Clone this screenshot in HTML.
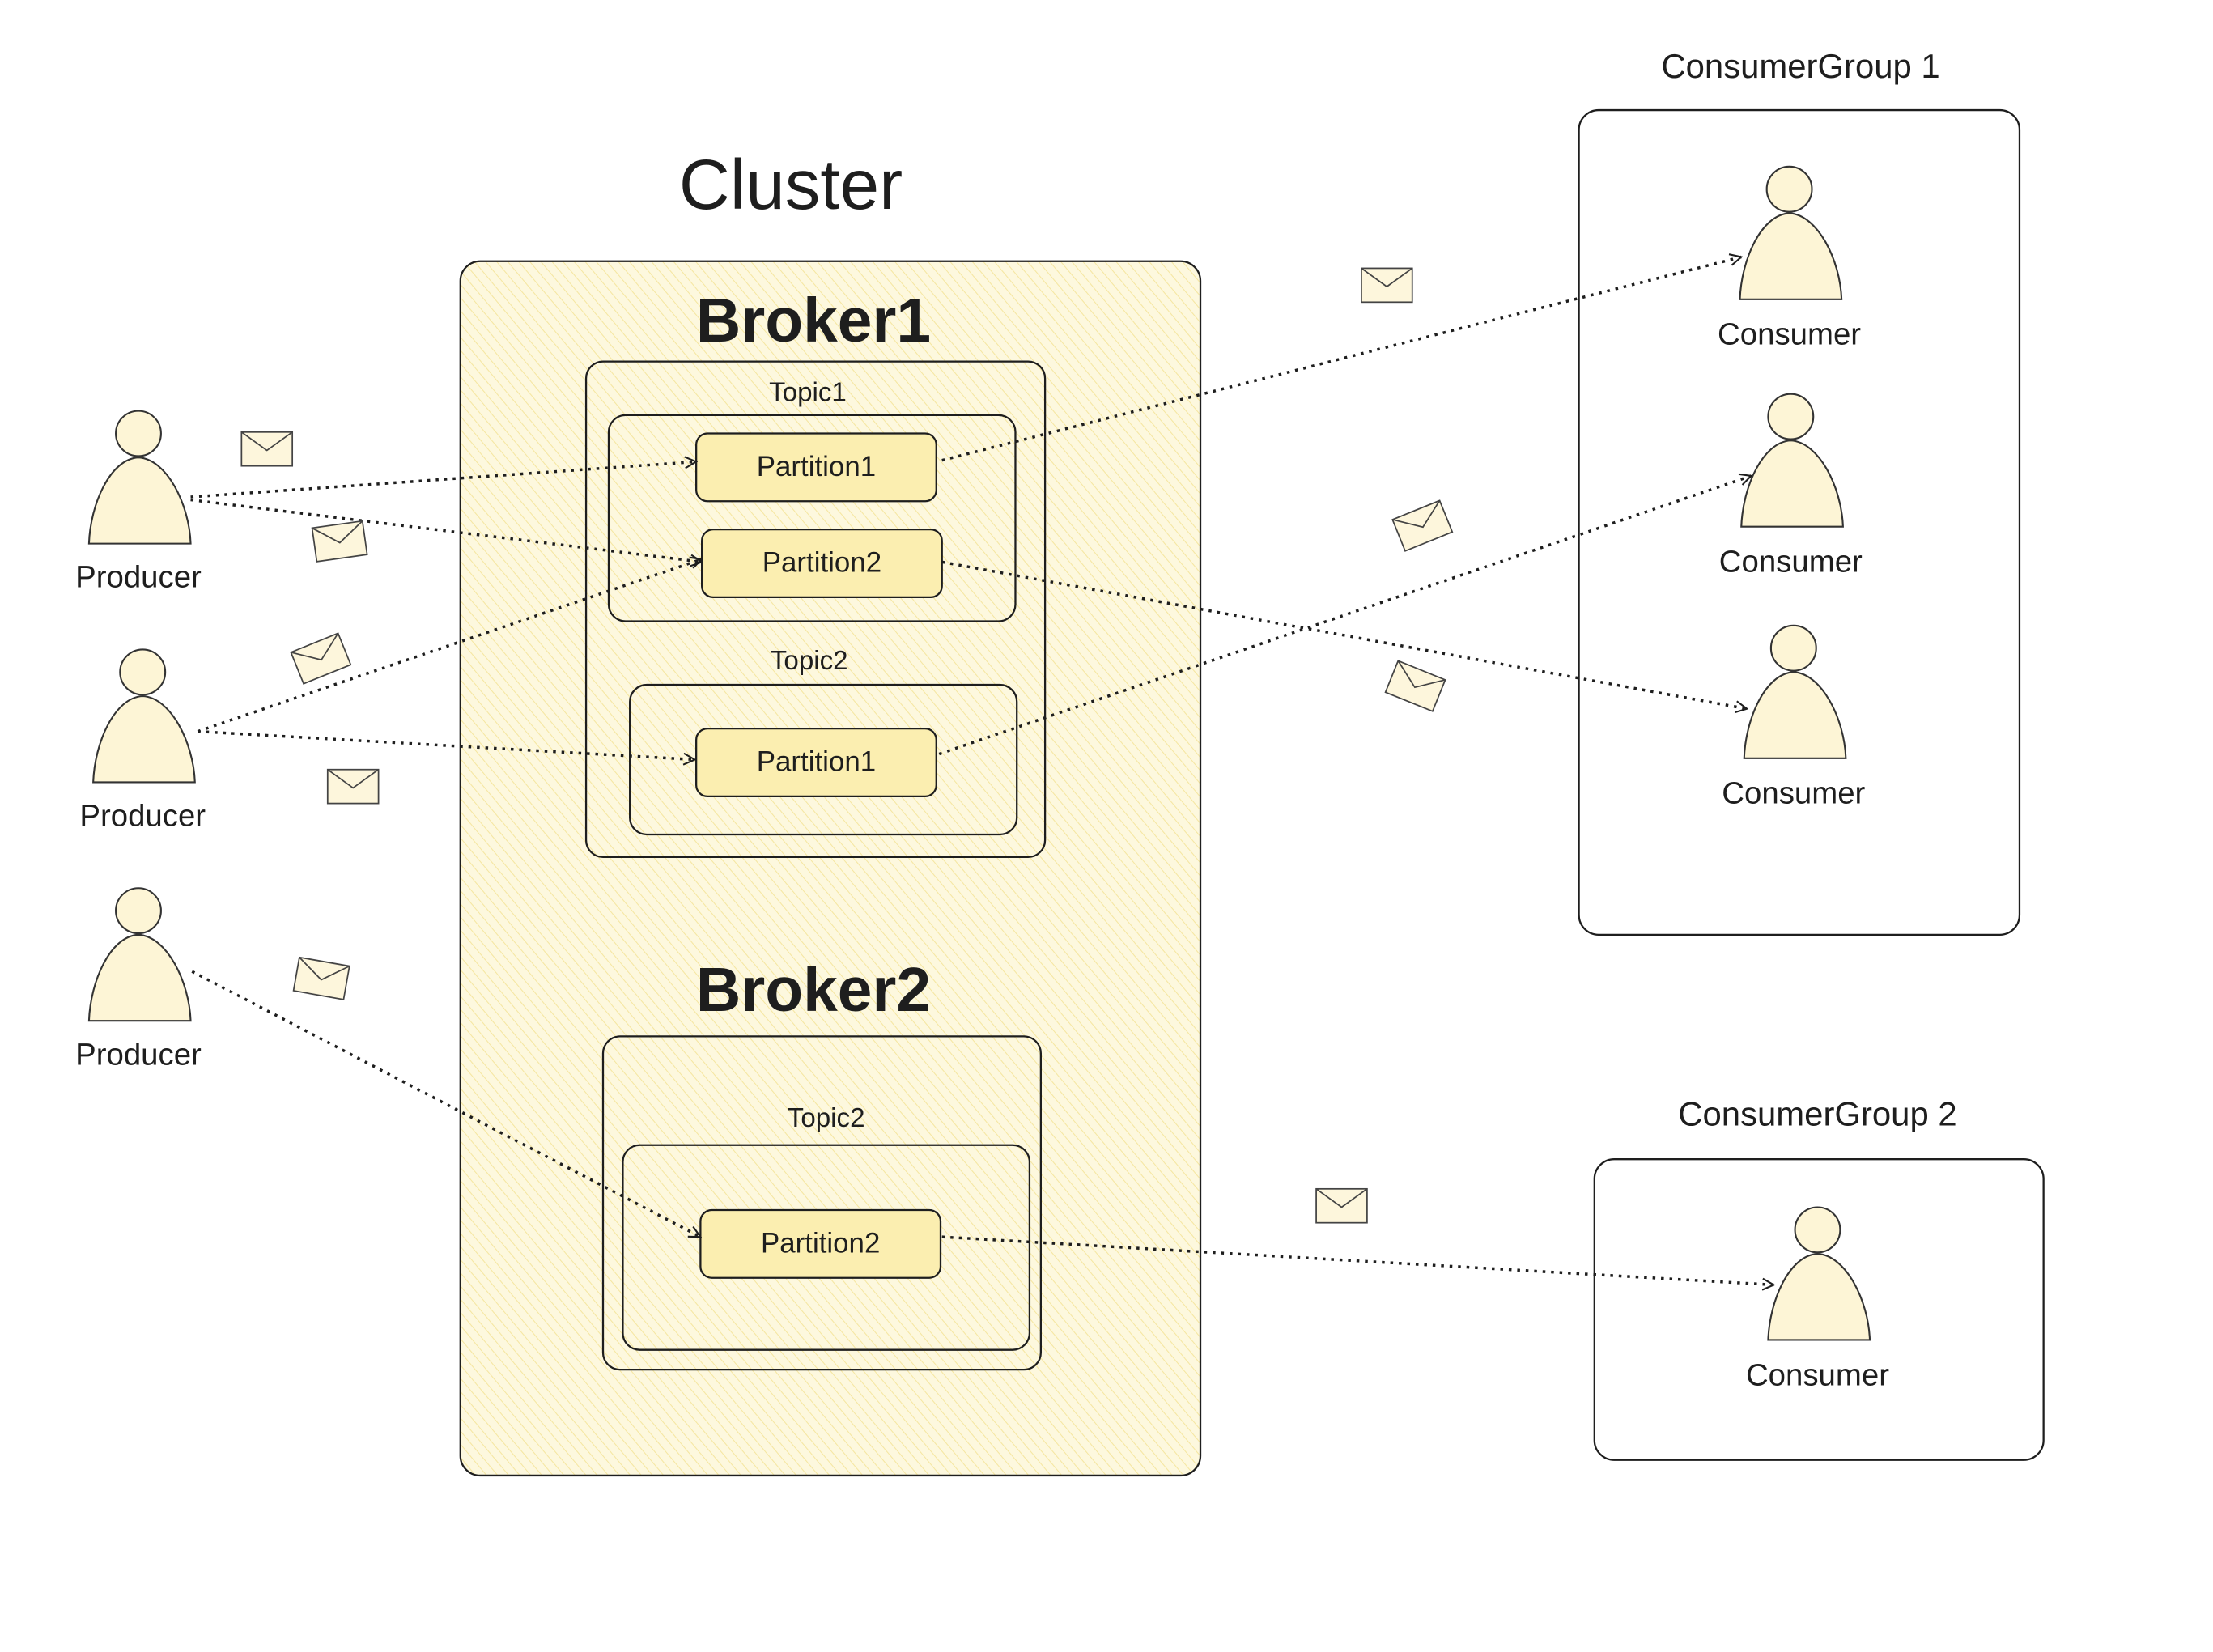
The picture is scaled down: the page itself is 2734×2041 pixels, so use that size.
<!DOCTYPE html>
<html><head><meta charset="utf-8"><style>
html,body{margin:0;padding:0;background:#fff;}
svg{display:block;}
text{font-family:"Liberation Sans","DejaVu Sans",sans-serif;fill:#1e1e1e;text-anchor:middle;}
</style></head><body>
<svg width="2734" height="2041" viewBox="0 0 1567 1170" preserveAspectRatio="none" xmlns="http://www.w3.org/2000/svg">
<defs>
<pattern id="h" width="6" height="6" patternUnits="userSpaceOnUse" patternTransform="rotate(-40)">
<rect width="6" height="6" fill="#fdf8de"/><line x1="0" y1="0" x2="0" y2="6" stroke="#f5e6a0" stroke-width="1.2"/>
</pattern>
<marker id="a" markerWidth="10" markerHeight="10" refX="9" refY="5" orient="auto" markerUnits="userSpaceOnUse">
<path d="M1,1 L9,5 L1,9" fill="none" stroke="#1e1e1e" stroke-width="1.2"/></marker>
<g id="env"><rect x="0" y="0" width="36" height="24" fill="#fdf6dc" stroke="#444" stroke-width="1"/><path d="M0,0 L18,13 L36,0" fill="none" stroke="#444" stroke-width="1"/></g>
<g id="person"><circle cx="0" cy="0" r="16" fill="#fdf5d6" stroke="#333" stroke-width="1.2"/><path d="M-35,78 C-34,50 -20,18 0,17 C20,18 36,50 37,78 Z" fill="#fdf5d6" stroke="#333" stroke-width="1.2"/></g>
</defs>

<text x="560" y="148" font-size="50">Cluster</text>
<rect x="326" y="185" width="524" height="860" rx="14" fill="url(#h)" stroke="#1e1e1e" stroke-width="1.3"/>
<text x="576" y="242" font-size="44" font-weight="bold">Broker1</text>
<rect x="415" y="256" width="325" height="351" rx="12" fill="url(#h)" stroke="#1e1e1e" stroke-width="1.3"/>
<text x="572" y="284" font-size="19">Topic1</text>
<rect x="431" y="294" width="288" height="146" rx="12" fill="url(#h)" stroke="#1e1e1e" stroke-width="1.3"/>
<rect x="493" y="307" width="170" height="48" rx="8" fill="#fbeeb0" stroke="#1e1e1e" stroke-width="1.3"/>
<text x="578" y="337" font-size="20">Partition1</text>
<rect x="497" y="375" width="170" height="48" rx="8" fill="#fbeeb0" stroke="#1e1e1e" stroke-width="1.3"/>
<text x="582" y="405" font-size="20">Partition2</text>
<text x="573" y="474" font-size="19">Topic2</text>
<rect x="446" y="485" width="274" height="106" rx="12" fill="url(#h)" stroke="#1e1e1e" stroke-width="1.3"/>
<rect x="493" y="516" width="170" height="48" rx="8" fill="#fbeeb0" stroke="#1e1e1e" stroke-width="1.3"/>
<text x="578" y="546" font-size="20">Partition1</text>

<text x="576" y="716" font-size="44" font-weight="bold">Broker2</text>
<rect x="427" y="734" width="310" height="236" rx="12" fill="url(#h)" stroke="#1e1e1e" stroke-width="1.3"/>
<text x="585" y="798" font-size="19">Topic2</text>
<rect x="441" y="811" width="288" height="145" rx="12" fill="url(#h)" stroke="#1e1e1e" stroke-width="1.3"/>
<rect x="496" y="857" width="170" height="48" rx="8" fill="#fbeeb0" stroke="#1e1e1e" stroke-width="1.3"/>
<text x="581" y="887" font-size="20">Partition2</text>

<use href="#person" x="98" y="307"/><text x="98" y="416" font-size="22">Producer</text>
<use href="#person" x="101" y="476"/><text x="101" y="585" font-size="22">Producer</text>
<use href="#person" x="98" y="645"/><text x="98" y="754" font-size="22">Producer</text>

<text x="1275" y="55" font-size="24">ConsumerGroup 1</text>
<rect x="1118" y="78" width="312" height="584" rx="14" fill="none" stroke="#1e1e1e" stroke-width="1.3"/>
<use href="#person" x="1267" y="134"/><text x="1267" y="244" font-size="22">Consumer</text>
<use href="#person" x="1268" y="295"/><text x="1268" y="405" font-size="22">Consumer</text>
<use href="#person" x="1270" y="459"/><text x="1270" y="569" font-size="22">Consumer</text>

<text x="1287" y="797" font-size="24">ConsumerGroup 2</text>
<rect x="1129" y="821" width="318" height="213" rx="14" fill="none" stroke="#1e1e1e" stroke-width="1.3"/>
<use href="#person" x="1287" y="871"/><text x="1287" y="981" font-size="22">Consumer</text>

<g fill="none" stroke="#1e1e1e" stroke-width="2" stroke-dasharray="2 4" marker-end="url(#a)">
<path d="M135,352 L493,327"/>
<path d="M135,354 L497,398"/>
<path d="M140,518 L497,396"/>
<path d="M140,518 L492,538"/>
<path d="M136,688 L496,876"/>
<path d="M667,326 L1233,182"/>
<path d="M667,398 L1237,502"/>
<path d="M665,534 L1240,337"/>
<path d="M667,876 L1256,910"/>
</g>

<use href="#env" transform="translate(171,306)"/>
<use href="#env" transform="translate(221,374) rotate(-8)"/>
<use href="#env" transform="translate(206,462) rotate(-22)"/>
<use href="#env" transform="translate(232,545)"/>
<use href="#env" transform="translate(212,678) rotate(10)"/>
<use href="#env" transform="translate(964,190)"/>
<use href="#env" transform="translate(986,368) rotate(-22)"/>
<use href="#env" transform="translate(990,468) rotate(22)"/>
<use href="#env" transform="translate(932,842)"/>
</svg>
</body></html>
